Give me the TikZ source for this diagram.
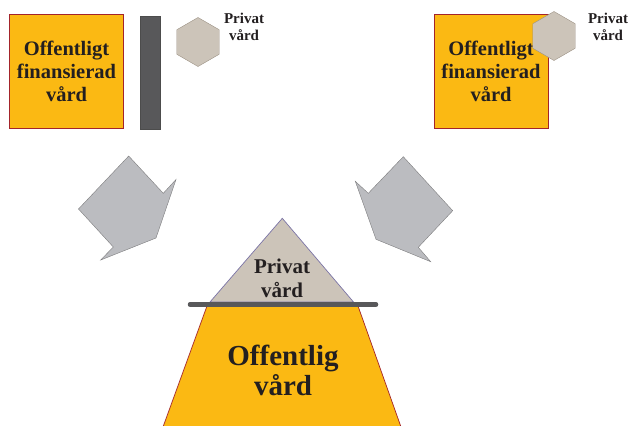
\documentclass[tikz,border=0pt]{standalone}
\usepackage{fontspec}
\setmainfont{Liberation Serif}
\usetikzlibrary{shapes.geometric}

\definecolor{offgul}{HTML}{FBB913}
\definecolor{offkant}{HTML}{A3242B}
\definecolor{privgra}{HTML}{CCC4B9}
\definecolor{privkant}{HTML}{9C9284}
\definecolor{pilgra}{HTML}{BBBCC0}
\definecolor{pilkant}{HTML}{7C7C7E}
\definecolor{sparr}{HTML}{58585A}
\definecolor{tri}{HTML}{7B74A6}
\definecolor{textfarg}{HTML}{231F20}

\tikzset{
  ruta/.style={draw=offkant,fill=offgul,minimum size=114pt,inner sep=0pt,
    align=center,text=textfarg,font=\fontsize{20.5}{23}\selectfont\bfseries},
  hexa/.style={regular polygon,regular polygon sides=6,shape border rotate=30,
    draw=privkant,fill=privgra,minimum size=49pt,inner sep=0pt},
  etikett/.style={align=center,text=textfarg,font=\fontsize{15}{17}\selectfont\bfseries},
  pil/.style={draw=pilkant,fill=pilgra,line join=miter},
}

\begin{document}
\begin{tikzpicture}[x=1pt,y=-1pt]
\useasboundingbox (0,0) rectangle (630,426);

% vänster: offentligt finansierad vård, spärr, privat vård
\node[ruta] (offV) at (66.5,71.5) {Offentligt\\finansierad\\vård};
\draw[draw=black!70,fill=sparr] (140,16) rectangle (160,129);
\node[hexa] (hexV) at (198,42) {};
\node[etikett] (privV) at (244,27) {Privat\\vård};

% höger: privat vård överlappar
\node[ruta] (offH) at (491,71) {Offentligt\\finansierad\\vård};
\node[hexa] (hexH) at (554,36) {};
\node[etikett] (privH) at (608,27) {Privat\\vård};

% pilarna
\draw[pil] (128.7,156) -- (78.5,209) -- (113.3,247) -- (100.7,260)
   -- (156,238) -- (176,179.5) -- (163.3,193.3) -- cycle;
\draw[pil] (403.3,156.7) -- (452.7,210.7) -- (418.3,247.3) -- (430.7,261.7)
   -- (376,239.3) -- (355.3,181.3) -- (368.3,193.3) -- cycle;

% pyramiden
\fill[offgul] (207,306) -- (358,306) -- (401,427) -- (163,427) -- cycle;
\draw[offkant,line width=0.7pt] (207,306) -- (163,427) (358,306) -- (401,427);
\draw[draw=tri,fill=privgra,line width=0.7pt] (282.3,218.3) -- (353.5,302) -- (210,302) -- cycle;
\draw[sparr,line width=4.5pt,line cap=round] (190,304.5) -- (376,304.5);
\node[align=center,text=textfarg,font=\fontsize{21}{24}\selectfont\bfseries] (privP) at (282,278) {Privat\\vård};
\node[align=center,text=textfarg,font=\fontsize{29}{30}\selectfont\bfseries] (offP) at (283,370) {Offentlig\\vård};
\end{tikzpicture}
\end{document}
